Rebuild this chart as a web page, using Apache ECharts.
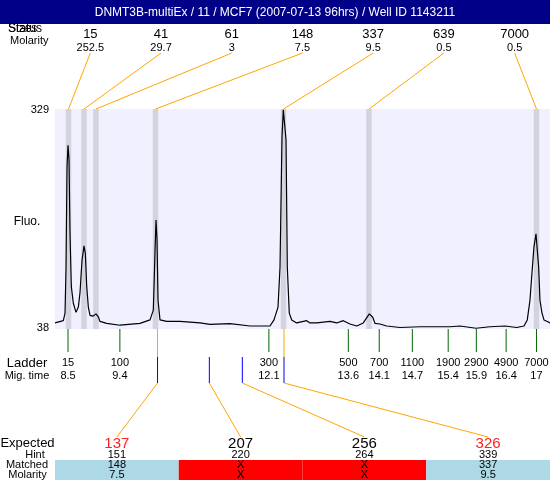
<!DOCTYPE html>
<html><head><meta charset="utf-8">
<script src="https://cdn.jsdelivr.net/npm/echarts@6/dist/echarts.min.js"></script>
<style>html,body{margin:0;padding:0;background:#fff}#c{width:550px;height:480px}</style>
</head><body><div id="c"></div>
<script>
const title = 'DNMT3B-multiEx / 11 / MCF7 (2007-07-13 96hrs) / Well ID 1143211';
// electropherogram trace: migration time (s) and fluorescence
const traceTime = [8.264,8.415,8.446,8.464,8.482,8.500,8.518,8.536,8.560,8.596,8.645,8.687,8.717,8.754,8.790,8.814,8.839,8.868,8.899,8.948,9.007,9.049,9.080,9.201,9.442,9.805,9.986,10.046,10.077,10.095,10.113,10.131,10.167,10.289,10.530,10.892,11.073,11.436,11.798,12.161,12.233,12.306,12.342,12.378,12.402,12.427,12.451,12.474,12.510,12.554,12.644,12.704,12.826,12.885,13.007,13.248,13.369,13.489,13.610,13.732,13.851,13.960,14.022,14.063,14.154,14.275,14.516,14.879,15.241,15.423,15.604,15.894,16.148,16.419,16.631,16.764,16.823,16.872,16.908,16.945,16.981,17.004,17.029,17.053,17.090,17.126,17.186,17.235];
const traceFluo = [46,49,59,120,253,281,262,165,94,72,60,67,86,129,148,138,94,67,56,55,58,54,48,45.5,43,45.5,50,63,142,182,156,76,50,48,48,46,44,45,42,42,50,67,120,292,328,328,288,120,59,50,46,47,49,46,46,48,46,49,44.6,42,46,58,53.5,45.5,44.6,42,40,41,41,41,42,39,41,42,40,42,50,76,112,147,164,164,120,76,59,50,48,46];
const yTicks = [38, 329];
// detected peaks
const peakSizes = ['15','41','61','148','337','639','7000'];
const peakMolarity = ['252.5','29.7','3','7.5','9.5','0.5','0.5'];
const peakTimes = [8.509,8.790,9.007,10.086,12.405,13.955,16.990];
// ladder
const ladderSizes = ['15','100','300','500','700','1100','1900','2900','4900','7000'];
const ladderTimes = [8.5,9.44,12.14,13.58,14.14,14.74,15.39,15.9,16.44,16.99];
const ladderTimeLabels = ['8.5','9.4','12.1','13.6','14.1','14.7','15.4','15.9','16.4','17'];
// expected fragments
const expectedSizes = ['137','207','256','326'];
const hintSizes = ['151','220','264','339'];
const matchedSizes = ['148','X','X','337'];
const matchedMolarity = ['7.5','X','X','9.5'];
const expectedTimes = [10.122,11.061,11.659,12.414];

const FONT = "'Liberation Sans', Arial, sans-serif";
const chart = echarts.init(document.getElementById('c'));
const plotL = 55, plotW = 495;
chart.setOption({
  animation: false,
  grid: {left: plotL, top: 109, width: plotW, height: 220, show: true, backgroundColor: '#F0F0FF', borderWidth: 0},
  xAxis: {type: 'value', min: 8.264, max: 17.235, show: false},
  yAxis: {type: 'value', min: yTicks[0], max: yTicks[1], show: false},
  series: [{
    type: 'line', symbol: 'none', silent: true,
    data: traceTime.map((t, i) => [t, traceFluo[i]]),
    lineStyle: {color: '#000', width: 1.2},
    markArea: {silent: true, itemStyle: {color: '#D3D3E0'},
      data: peakTimes.map(t => [{xAxis: t - 0.05}, {xAxis: t + 0.05}])}
  }]
});
const px = t => chart.convertToPixel({xAxisIndex: 0}, t);
const py = v => chart.convertToPixel({yAxisIndex: 0}, v);
const plotTop = py(yTicks[1]), plotBottom = py(yTicks[0]);
const g = [];
function txt(s, x, y, size, color, align) {
  g.push({type: 'text', z: 10, style: {text: s, x: x, y: y, fill: color || '#000',
    font: size + 'px ' + FONT, textAlign: align || 'center', textVerticalAlign: 'middle',
    align: align || 'center', verticalAlign: 'middle'}});
}
function ln(x1, y1, x2, y2, color, w) {
  g.push({type: 'line', z: 9, shape: {x1: x1, y1: y1, x2: x2, y2: y2}, style: {stroke: color, lineWidth: w || 1}});
}
g.push({type: 'rect', z: 1, shape: {x: 0, y: 0, width: 550, height: 24}, style: {fill: '#000088'}});
txt(title, 275, 12.5, 12, '#fff');
txt('Sizes', 8, 29, 12, '#000', 'left');
txt('Status', 8, 29, 12, '#000', 'left');
txt('Molarity', 10, 41, 11, '#000', 'left');
const colW7 = plotW / peakSizes.length;
peakSizes.forEach((s, i) => {
  const cx = plotL + (i + 0.5) * colW7;
  txt(s, cx, 34, 13);
  txt(peakMolarity[i], cx, 47.5, 11);
  ln(cx, 53, px(peakTimes[i]), plotTop, '#FFA500');
});
txt(String(yTicks[1]), 49, plotTop + 1, 11, '#000', 'right');
txt(String(yTicks[0]), 49, plotBottom - 1, 11, '#000', 'right');
txt('Fluo.', 27, 222, 12);
txt('Ladder', 27, 363, 13);
txt('Mig. time', 27, 376, 11);
ladderSizes.forEach((s, i) => {
  const x = px(ladderTimes[i]);
  ln(x, plotBottom, x, 352, '#006400');
  txt(s, x, 363, 11);
  txt(ladderTimeLabels[i], x, 376, 11);
});
const colW4 = plotW / expectedSizes.length;
expectedSizes.forEach((s, i) => {
  const x = px(expectedTimes[i]);
  const matched = matchedSizes[i] !== 'X';
  const cx = plotL + (i + 0.5) * colW4;
  if (matched) ln(x, plotBottom, x, 357, '#FFA500');
  ln(x, 357, x, 383, '#0000FF');
  ln(x, 383, cx, 437, '#FFA500');
  g.push({type: 'rect', z: 2, shape: {x: plotL + i * colW4, y: 460, width: colW4, height: 20},
    style: {fill: matched ? '#ADD8E6' : '#FF0000'}});
  txt(s, cx, 444, 15, matched ? '#FF2020' : '#000');
  txt(hintSizes[i], cx, 455, 11);
  txt(matchedSizes[i], cx, 465, 11);
  txt(matchedMolarity[i], cx, 474.5, 11);
});
txt('Expected', 27.5, 443, 13);
txt('Hint', 35, 455, 11);
txt('Matched', 27, 465, 11);
txt('Molarity', 27.5, 474.5, 11);
chart.setOption({graphic: {elements: g}});
</script></body></html>
